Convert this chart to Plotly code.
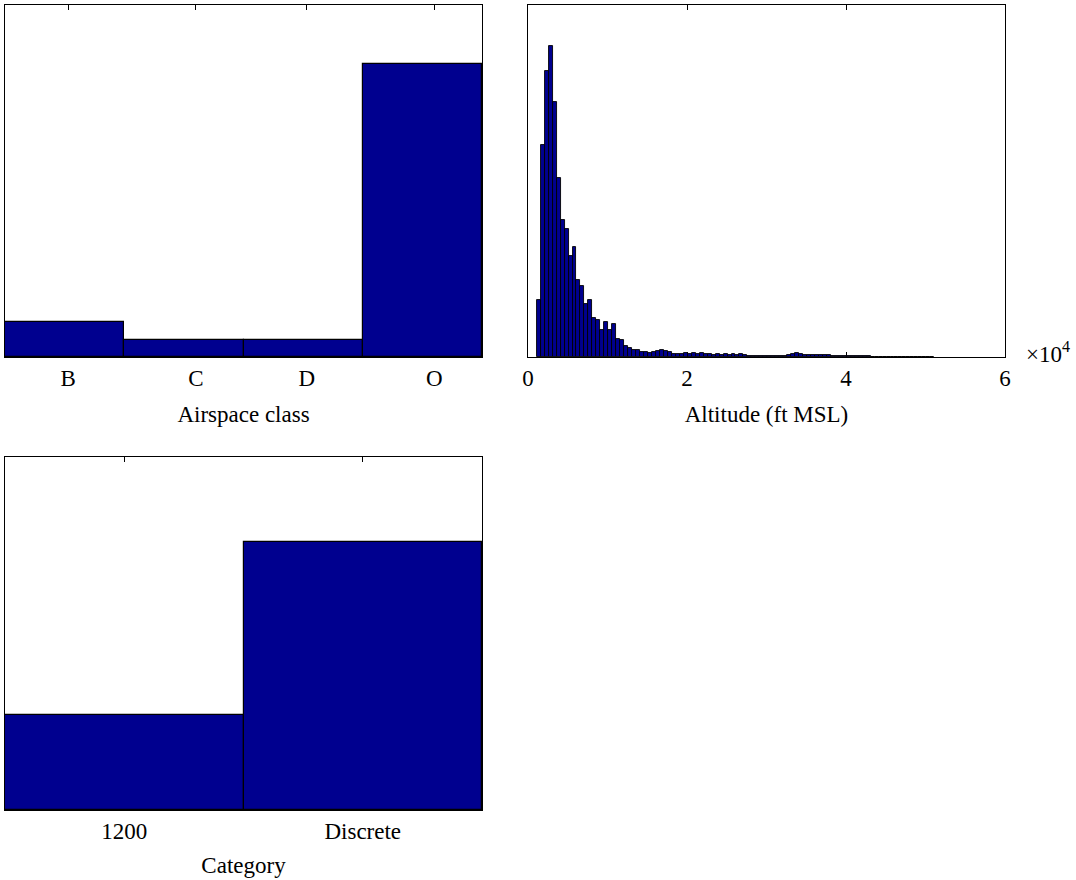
import plotly.graph_objects as go

# ---- data ----
airspace_classes = ["B", "C", "D", "O"]
airspace_counts = [35, 17, 17, 293]

category_labels = ["1200", "Discrete"]
category_counts = [95, 268]

alt_bin_start = 1100      # ft, left edge of first bin
alt_bin_width = 500       # ft
alt_counts = [
    567, 2117, 2860, 3110, 2550, 1794, 1367, 1280, 1014, 1100,
    774, 707, 534, 567, 394, 374, 267, 354, 267, 334,
    180, 167, 107, 87, 67, 67, 53, 53, 40, 53,
    60, 67, 60, 47, 33, 27, 27, 40, 27, 40,
    33, 40, 27, 27, 25, 27, 25, 27, 25, 27,
    25, 27, 22, 15, 12, 12, 15, 15, 15, 15,
    15, 15, 15, 18, 30, 45, 35, 22, 20, 22,
    20, 22, 20, 20, 15, 10, 10, 8, 8, 7,
    7, 6, 6, 6, 5, 5, 2, 2, 2, 2,
    2, 2, 2, 2, 2, 2, 2, 2, 2, 2,
]

alt_ticks = [0, 20000, 40000, 60000]
alt_tick_text = ["0", "2", "4", "6"]
airspace_tick_pos = [0.03, 1.10, 2.03, 3.10]

BAR_COLOR = "#00008F"
FONT = "Liberation Serif"
FS = 23

fig = go.Figure()

fig.add_trace(go.Bar(
    x=list(range(len(airspace_classes))), y=airspace_counts,
    width=1, marker=dict(color=BAR_COLOR, line=dict(color="black", width=1.2)),
    xaxis="x", yaxis="y", showlegend=False, hoverinfo="skip"))

fig.add_trace(go.Bar(
    x0=alt_bin_start + alt_bin_width / 2, dx=alt_bin_width, y=alt_counts,
    width=alt_bin_width,
    marker=dict(color=BAR_COLOR, line=dict(color="black", width=0.9)),
    xaxis="x2", yaxis="y2", showlegend=False, hoverinfo="skip"))

fig.add_trace(go.Bar(
    x=list(range(len(category_labels))), y=category_counts,
    width=1, marker=dict(color=BAR_COLOR, line=dict(color="black", width=1.2)),
    xaxis="x3", yaxis="y3", showlegend=False, hoverinfo="skip"))

W, H = 1076, 880
def fx(px):
    return px / W
def fy(py):
    return 1 - py / H

axis_common = dict(showline=True, linecolor="black", linewidth=1, mirror="ticks",
                   showgrid=False, zeroline=False, ticks="inside", ticklen=5,
                   tickcolor="black", tickwidth=1, layer="below traces",
                   tickfont=dict(family=FONT, size=FS, color="black"))
yaxis_common = dict(showline=True, linecolor="black", linewidth=1, mirror=True,
                    showgrid=False, zeroline=False, ticks="", showticklabels=False,
                    layer="below traces")

fig.update_layout(
    width=W, height=H,
    margin=dict(l=0, r=0, t=0, b=0, autoexpand=False),
    paper_bgcolor="white", plot_bgcolor="white",
    bargap=0,
    font=dict(family=FONT, size=FS, color="black"),
    xaxis=dict(axis_common, domain=[fx(5), fx(482)], anchor="y",
               range=[-0.5, len(airspace_classes) - 0.5],
               tickvals=airspace_tick_pos, ticktext=airspace_classes,
               title=dict(text="Airspace class", standoff=16,
                          font=dict(family=FONT, size=FS))),
    yaxis=dict(yaxis_common, domain=[fy(357), fy(5)], anchor="x",
               range=[0, 352]),
    xaxis2=dict(axis_common, domain=[fx(528), fx(1005)], anchor="y2",
                range=[0, 60000], tickvals=alt_ticks, ticktext=alt_tick_text,
                title=dict(text="Altitude (ft MSL)", standoff=16,
                           font=dict(family=FONT, size=FS))),
    yaxis2=dict(yaxis_common, domain=[fy(357), fy(5)], anchor="x2",
                range=[0, 3520]),
    xaxis3=dict(axis_common, domain=[fx(5), fx(482)], anchor="y3",
                range=[-0.5, len(category_labels) - 0.5],
                tickvals=list(range(len(category_labels))), ticktext=category_labels,
                title=dict(text="Category", standoff=14,
                           font=dict(family=FONT, size=FS))),
    yaxis3=dict(yaxis_common, domain=[fy(810), fy(457)], anchor="x3",
                range=[0, 353]),
    annotations=[dict(text="×10<sup>4</sup>", xref="paper", yref="paper",
                      x=fx(1024), y=fy(352), xanchor="left", yanchor="middle",
                      showarrow=False, font=dict(family=FONT, size=FS))],
)

fig.write_html("out.html",
               config={"displayModeBar": False},
               post_script="document.body.style.margin='0px';"
                           "document.body.style.overflow='hidden';")
